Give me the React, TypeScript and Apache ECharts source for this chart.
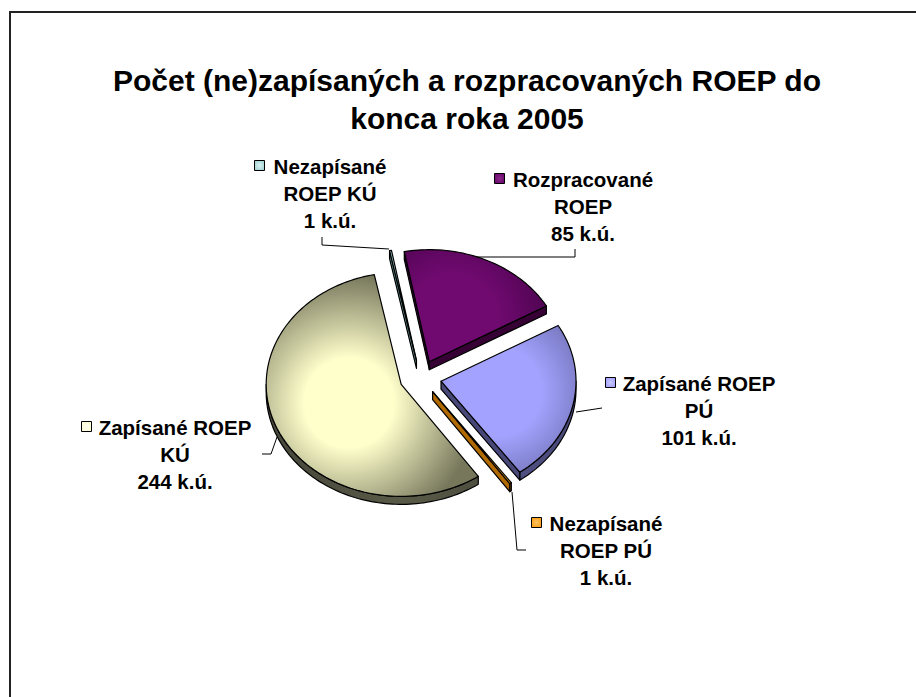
import React, { useEffect, useRef } from 'react';
import * as echarts from 'echarts';

// ---------- data ----------
const titleText = 'Počet (ne)zapísaných a rozpracovaných ROEP do\nkonca roka 2005';
const categories = [
  'Nezapísané\nROEP KÚ',
  'Rozpracované\nROEP',
  'Zapísané ROEP\nPÚ',
  'Nezapísané\nROEP PÚ',
  'Zapísané ROEP\nKÚ',
];
const values = [1, 85, 101, 1, 244];
const unitLabel = 'k.ú.';

// ---------- colours ----------
const topCenterColors = ['#A6DADA', '#700A70', '#A3A3FF', '#FFA31A', '#FFFFCC'];
const topEdgeColors = ['#6A9E9E', '#3A003E', '#56568F', '#C07000', '#77775C'];
const sideColors = ['#5F8F8F', '#360034', '#484878', '#B06A00', '#46463A'];
const sideLightColors = ['#6FA0A0', '#4A004A', '#58588E', '#C07400', '#5A5A48'];
const keyColors = ['#99CCCC', '#660066', '#9999FF', '#FF9900', '#FFFFCC'];
const keyLightColors = ['#D8F2F2', '#8A2A8A', '#C8C8FF', '#FFC266', '#FFFFF0'];

// ---------- layout ----------
const FONT = '"Liberation Sans", Arial, Helvetica, sans-serif';
const CX = 420.5;
const CY = 377.5;
const RX = 135;
const RY = 112;
const DEPTH = 8;
const EXPLODE = 21;
const ROTATION = -11.5;
const labelCenters = [
  [330, 193],
  [583, 206],
  [699, 410],
  [606, 550],
  [175, 454],
];
const keyBoxes = [
  [254, 160],
  [494, 173],
  [605, 377],
  [531, 517],
  [81, 421],
];
const leaderLines = [
  [[322, 237], [322, 245], [389, 249]],
  [[575, 249], [575, 257], [467, 257]],
  [[576, 412], [602, 408]],
  [[512, 492], [517, 550], [526, 550]],
  [[277, 437], [271, 454], [262, 454]],
];

const total = values.reduce((s, v) => s + v, 0);
const cumulative = values.map((_, i) => values.slice(0, i).reduce((s, v) => s + v, 0));
const rad = (d: number) => (d * Math.PI) / 180;

function renderItem(params: any, api: any) {
  const i = params.dataIndex;
  const v = api.value(0) as number;
  const a0 = ROTATION + (cumulative[i] / total) * 360;
  const a1 = a0 + (v / total) * 360;
  const m = rad((a0 + a1) / 2);
  const k = RY / RX;
  const ax = CX + EXPLODE * Math.sin(m);
  const ay = CY - EXPLODE * k * Math.cos(m);
  const pt = (deg: number, dy = 0) => [
    ax + RX * Math.sin(rad(deg)),
    ay - RY * Math.cos(rad(deg)) + dy,
  ];
  const arc = (from: number, to: number, dy = 0) => {
    const n = Math.max(1, Math.ceil((to - from) / 1.5));
    const out: number[][] = [];
    for (let j = 0; j <= n; j++) out.push(pt(from + ((to - from) * j) / n, dy));
    return out;
  };
  const children: any[] = [];
  const sideStyle = {
    fill: sideColors[i],
    stroke: '#000',
    lineWidth: 1.2,
    lineJoin: 'round',
  };
  // front outer wall
  for (const base of [-360, 0, 360]) {
    const s = Math.max(a0, 90 + base);
    const e = Math.min(a1, 270 + base);
    if (e > s) {
      const top = arc(s, e);
      const bot = arc(s, e, DEPTH).reverse();
      children.push({
        type: 'polygon',
        shape: { points: top.concat(bot) },
        style: {
          ...sideStyle,
          fill: {
            type: 'linear',
            x: ax - RX,
            y: 0,
            x2: ax + RX,
            y2: 0,
            global: true,
            colorStops: [
              { offset: 0, color: sideColors[i] },
              { offset: 0.5, color: sideLightColors[i] },
              { offset: 1, color: sideColors[i] },
            ],
          },
        },
      });
    }
  }
  // radial walls facing the viewer
  if (Math.sin(rad(a0)) < 0) {
    const p = pt(a0);
    children.push({
      type: 'polygon',
      shape: { points: [[ax, ay], p, [p[0], p[1] + DEPTH], [ax, ay + DEPTH]] },
      style: sideStyle,
    });
  }
  if (Math.sin(rad(a1)) > 0) {
    const p = pt(a1);
    children.push({
      type: 'polygon',
      shape: { points: [p, [ax, ay], [ax, ay + DEPTH], [p[0], p[1] + DEPTH]] },
      style: sideStyle,
    });
  }
  // top face
  const t = 0.42;
  const gx = ax + t * RX * Math.sin(m);
  const gy = ay - t * RY * Math.cos(m);
  children.push({
    type: 'polygon',
    shape: { points: [[ax, ay], ...arc(a0, a1)] },
    style: {
      fill: {
        type: 'radial',
        x: gx,
        y: gy,
        r: RX * 0.95,
        global: true,
        colorStops: [
          { offset: 0, color: topCenterColors[i] },
          { offset: 0.35, color: topCenterColors[i] },
          { offset: 1, color: topEdgeColors[i] },
        ],
      },
      stroke: '#000',
      lineWidth: 1.2,
      lineJoin: 'round',
    },
  });
  return { type: 'group', children };
}

export default function App() {
  const ref = useRef<HTMLDivElement>(null);
  useEffect(() => {
    if (!ref.current) return;
    const chart = echarts.init(ref.current, undefined, { renderer: 'svg' });
    const graphics: any[] = [
      {
        type: 'polyline',
        shape: { points: [[10, 697], [10, 12], [916, 12]] },
        style: { stroke: '#222', lineWidth: 2, fill: null },
        silent: true,
      },
    ];
    leaderLines.forEach((pts) =>
      graphics.push({
        type: 'polyline',
        shape: { points: pts },
        style: { stroke: '#000', lineWidth: 1, fill: null },
        silent: true,
      })
    );
    categories.forEach((name, i) => {
      graphics.push({
        type: 'rect',
        shape: { x: keyBoxes[i][0] + 0.5, y: keyBoxes[i][1] + 0.5, width: 10, height: 10 },
        style: {
          fill: {
            type: 'radial',
            x: 0.5,
            y: 0.5,
            r: 0.7,
            colorStops: [
              { offset: 0, color: keyLightColors[i] },
              { offset: 1, color: keyColors[i] },
            ],
          },
          stroke: '#000',
          lineWidth: 1,
        },
        silent: true,
      });
      graphics.push({
        type: 'text',
        x: labelCenters[i][0],
        y: labelCenters[i][1],
        style: {
          text: `${name}\n${values[i]} ${unitLabel}`,
          font: `bold 20.5px ${FONT}`,
          fill: '#000',
          align: 'center',
          verticalAlign: 'middle',
          lineHeight: 27,
        },
        silent: true,
      });
    });
    chart.setOption({
      animation: false,
      backgroundColor: '#ffffff',
      title: {
        text: titleText,
        left: 467,
        top: 61,
        textAlign: 'center',
        padding: 0,
        textStyle: {
          fontFamily: FONT,
          fontWeight: 'bold',
          fontSize: 30,
          lineHeight: 38,
          color: '#000',
        },
      },
      graphic: graphics,
      series: [
        {
          type: 'custom',
          coordinateSystem: 'none',
          renderItem,
          silent: true,
          data: values.map((v, i) => ({ value: v, name: categories[i] })),
        },
      ],
    });
    return () => chart.dispose();
  }, []);
  return (
    <div
      ref={ref}
      style={{ position: 'absolute', left: 0, top: 0, width: 916, height: 697, background: '#fff' }}
    />
  );
}
